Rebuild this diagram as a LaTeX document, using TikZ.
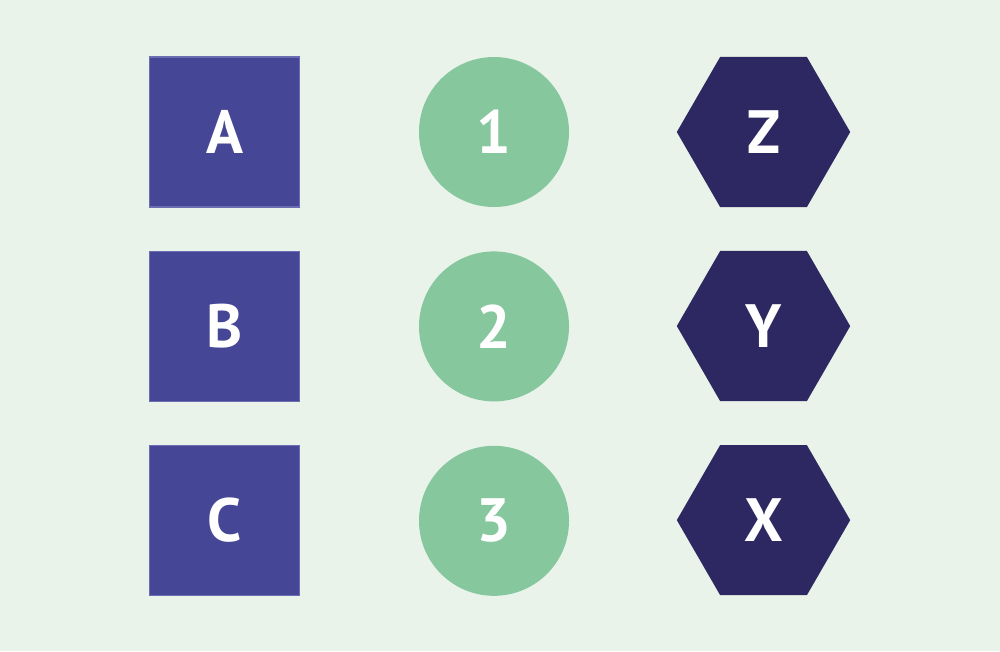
\documentclass[tikz,border=0pt]{standalone}
\usepackage{fontspec}
\setmainfont{PT Sans}
\usetikzlibrary{positioning,shapes.geometric}
\definecolor{bgmint}{HTML}{E9F3EA}
\definecolor{boxblue}{HTML}{454695}
\definecolor{boxline}{HTML}{6C6DB3}
\definecolor{dotgreen}{HTML}{86C79E}
\definecolor{hexnavy}{HTML}{2D2862}
\tikzset{
  lbl/.style={text=white, font=\fontsize{17.4}{20}\selectfont\bfseries, inner sep=0pt},
  sqbox/.style={lbl, rectangle, fill=boxblue, draw=boxline, line width=0.3pt, minimum size=1.5cm},
  dotnode/.style={lbl, circle, fill=dotgreen, minimum size=1.5cm},
  hexnode/.style={lbl, regular polygon, regular polygon sides=6, fill=hexnavy, minimum size=1.734cm}
}

\begin{document}
\begin{tikzpicture}
    \fill[bgmint] (0,0) rectangle (10,6.51);
    \useasboundingbox (0,0) rectangle (10,6.51);

    % squares
    \node[sqbox] (sqA) at (2.245,5.19) {A};
    \node[sqbox, below=0.43cm of sqA] (sqB) {B};
    \node[sqbox, below=0.43cm of sqB] (sqC) {C};

    % circles
    \node[dotnode] (dot1) at (4.94,5.19) {1};
    \node[dotnode, below=0.43cm of dot1] (dot2) {2};
    \node[dotnode, below=0.43cm of dot2] (dot3) {3};

    % hexagons
    \node[hexnode] (hexZ) at (7.635,5.19) {Z};
    \node[hexnode] (hexY) at (hexZ |- sqB) {Y};
    \node[hexnode] (hexX) at (hexZ |- sqC) {X};
\end{tikzpicture}
\end{document}
